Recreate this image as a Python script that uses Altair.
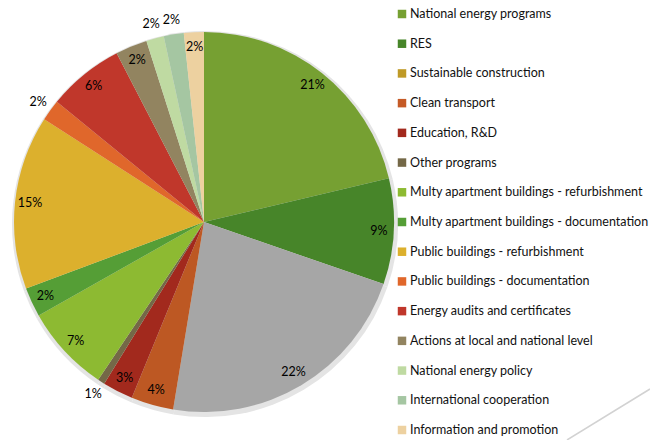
import altair as alt
import pandas as pd

categories = [
    "National energy programs",
    "RES",
    "Sustainable construction",
    "Clean transport",
    "Education, R&D",
    "Other programs",
    "Multy apartment buildings - refurbishment",
    "Multy apartment buildings - documentation",
    "Public buildings - refurbishment",
    "Public buildings - documentation",
    "Energy audits and certificates",
    "Actions at local and national level",
    "National energy policy",
    "International cooperation",
    "Information and promotion",
]
# shares (percent)
shares = [21.3, 9.0, 22.3, 3.6, 2.6, 0.6, 7.4, 2.5, 14.8, 1.8, 6.5, 2.7, 1.5, 1.7, 1.7]
# percentages printed on the chart
labels = [21, 9, 22, 4, 3, 1, 7, 2, 15, 2, 6, 2, 2, 2, 2]
# which labels sit outside the pie
label_outside = [False, False, False, False, False, True, False, False, False, True, False, False, True, True, False]

slice_colors = ["#76A032", "#478529", "#A6A6A6", "#BD5823", "#A2291D", "#746847",
                "#8DBA32", "#559E36", "#DCB02D", "#E0672B", "#C0372B", "#928460",
                "#BFDAA2", "#A5C6A2", "#EDD1A0"]
legend_colors = ["#76A032", "#478529", "#BF9A27", "#C55A26", "#A2291D", "#746847",
                 "#8DBA32", "#559E36", "#DCB02D", "#E0672B", "#C0372B", "#928460",
                 "#BFDAA2", "#A5C6A2", "#EDD1A0"]

df = pd.DataFrame({
    "category": categories,
    "share": shares,
    "label": [f"{v}%" for v in labels],
    "outside": label_outside,
    "fill": slice_colors,
    "lfill": legend_colors,
    "idx": list(range(len(categories))),
})

CX, CY, R = 204, 222, 190
FONT = "Lato"

total = float(sum(shares))
tscale = alt.Scale(domain=[0, total])

stacked = alt.Chart(df).transform_window(
    cum="sum(share)", sort=[alt.SortField("idx")], frame=[None, 0]
).transform_calculate(
    start="datum.cum - datum.share",
    mid="datum.cum - datum.share / 2",
    r="datum.outside ? 205 : 175",
)

shadow = stacked.mark_arc(outerRadius=R + 3, color="#e4e4e4").encode(
    theta=alt.Theta("start:Q", scale=tscale, stack=None),
    theta2="cum:Q",
    x=alt.value(CX + 1), y=alt.value(CY + 2),
)

pie = stacked.mark_arc(outerRadius=R).encode(
    theta=alt.Theta("start:Q", scale=tscale, stack=None),
    theta2="cum:Q",
    x=alt.value(CX), y=alt.value(CY),
    color=alt.Color("fill:N", scale=None),
)

text = stacked.mark_text(font=FONT, fontSize=12.5, color="#000000").encode(
    theta=alt.Theta("mid:Q", scale=tscale, stack=None),
    x=alt.value(CX), y=alt.value(CY),
    radius=alt.Radius("r:Q", scale=None),
    text="label:N",
)

ypos = alt.Y("idx:Q", scale=alt.Scale(domain=[0, 14], range=[14, 430]), axis=None)

leg_sq = alt.Chart(df).mark_square(size=72, opacity=1).encode(
    x=alt.value(402),
    y=ypos,
    color=alt.Color("lfill:N", scale=None),
)
leg_tx = alt.Chart(df).mark_text(font=FONT, fontSize=12.5, align="left", baseline="middle",
                                 color="#111111").encode(
    x=alt.value(410),
    y=ypos,
    text="category:N",
)

deco = alt.Chart(df.head(1)).mark_rule(color="#d2d2d2", strokeWidth=1.5).encode(
    x=alt.value(650), y=alt.value(389), x2=alt.value(567), y2=alt.value(440),
)

chart = alt.layer(shadow, pie, text, leg_sq, leg_tx, deco).properties(
    width=650, height=440, padding=0,
    autosize=alt.AutoSizeParams(type="none"),
).configure_view(stroke=None)

chart.save("out.html", embed_options={"renderer": "svg", "actions": False})
